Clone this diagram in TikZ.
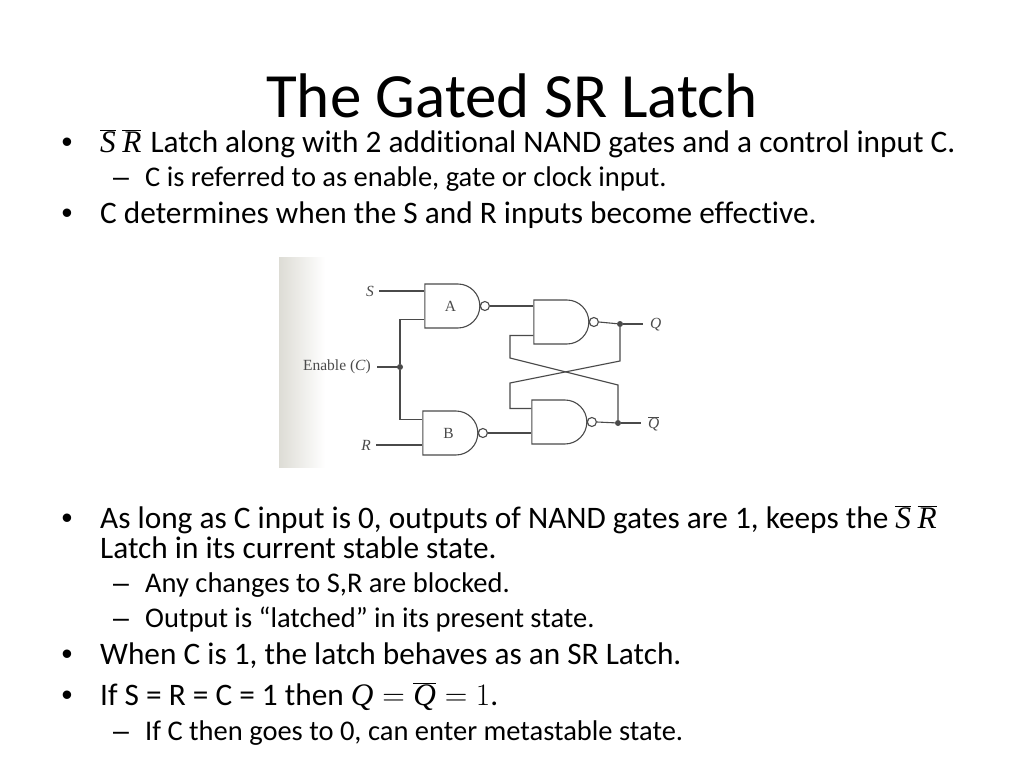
\documentclass[tikz,border=0pt]{standalone}
\usepackage{fix-cm}
\usepackage{fontspec}
\setmainfont[Ligatures=NoCommon]{Carlito}
\newfontfamily\scanfont{Liberation Serif}
\newfontfamily\markfont{Liberation Sans}
\usetikzlibrary{shapes.gates.logic.US}
\definecolor{scanink}{HTML}{4A4A4A}
\definecolor{scanedge}{HTML}{DDDCD5}
\newcommand{\latchvar}[1]{\mbox{\scanfont\itshape #1}}
\newcommand{\latchbars}{$\overline{\latchvar{S}}\hspace{6.5pt}\overline{\latchvar{R}}$}
\tikzset{
  titletxt/.style = {anchor=base, inner sep=0pt, font=\fontsize{63}{66}\selectfont},
  maintxt/.style = {anchor=base west, inner sep=0pt, font=\fontsize{31.3}{34}\selectfont},
  subtxt/.style = {anchor=base west, inner sep=0pt, font=\fontsize{28.5}{32}\selectfont},
  bulletmark/.style = {anchor=base west, inner sep=0pt, font=\markfont\fontsize{31}{34}\selectfont},
  dashmark/.style = {anchor=base west, inner sep=0pt, font=\markfont\fontsize{28.5}{32}\selectfont},
  scantxt/.style = {inner sep=0pt, text=scanink, font=\scanfont\fontsize{15.5}{17}\selectfont},
  nandgate/.style = {nand gate US, draw=scanink, line width=1.1pt, text=scanink, inner sep=0pt,
    logic gate inputs=nn, logic gate input sep=14.67pt, logic gate inverted radius=4.5pt,
    font=\scanfont\fontsize{15.5}{17}\selectfont},
  wire/.style = {draw=scanink, line width=1.1pt},
  junct/.style = {circle, fill=scanink, inner sep=0pt, minimum size=6pt}
}
\begin{document}
\begin{tikzpicture}[x=1pt,y=-1pt]
  \useasboundingbox (0,0) rectangle (1024,768);
  \shade[left color=scanedge, right color=white] (279,257) rectangle (325,467);

  \node [titletxt] (title) at (512,117) {The Gated SR Latch};
  % upper bullets
  \node [bulletmark] (bul1) at (61.5,152) {•};
  \node [maintxt] (line1) at (100,152) {\latchbars\hspace{2pt} Latch along with 2 additional NAND gates and a control input C.};
  \node [dashmark] (dash1) at (113,186) {–};
  \node [subtxt] (line2) at (145,186) {C is referred to as enable, gate or clock input.};
  \node [bulletmark] (bul2) at (61.5,223) {•};
  \node [maintxt] (line3) at (100,223) {C determines when the S and R inputs become effective.};
  % lower bullets
  \node [bulletmark] (bul3) at (61.5,528) {•};
  \node [maintxt] (line4) at (100,528) {As long as C input is 0, outputs of NAND gates are 1, keeps the \latchbars};
  \node [maintxt] (line5) at (100,558) {Latch in its current stable state.};
  \node [dashmark] (dash2) at (113,592) {–};
  \node [subtxt] (line6) at (145,592) {Any changes to S,R are blocked.};
  \node [dashmark] (dash3) at (113,627) {–};
  \node [subtxt] (line7) at (145,627) {Output is “latched” in its present state.};
  \node [bulletmark] (bul4) at (61.5,664) {•};
  \node [maintxt] (line8) at (100,664) {When C is 1, the latch behaves as an SR Latch.};
  \node [bulletmark] (bul5) at (61.5,705) {•};
  \node [maintxt] (line9) at (100,705) {If S = R = C = 1 then $\latchvar{Q}=\overline{\latchvar{Q}}=1$.};
  \node [dashmark] (dash4) at (113,740) {–};
  \node [subtxt] (line10) at (145,740) {If C then goes to 0, can enter metastable state.};

  % the latch
  \node [nandgate] (gateA) at (450.5,306) {A};
  \node [nandgate] (gateB) at (448.5,433) {B};
  \node [nandgate] (gateQ) at (559.5,322) {};
  \node [nandgate] (gateQn) at (557.5,422) {};

  \node [scantxt, anchor=east] (inS) at (374,291) {\itshape S};
  \node [scantxt, anchor=east] (inR) at (371,445) {\itshape R};
  \node [scantxt, anchor=east] (inC) at (371,367) {Enable (\textit{C})};
  \node [scantxt, anchor=west] (outQ) at (650,325) {\itshape Q};
  \node [scantxt, anchor=west] (outQn) at (648,424) {$\overline{\mbox{\itshape Q}}$};

  \node [junct] (dotC) at (400,367) {};
  \node [junct] (dotQ) at (620,324) {};
  \node [junct] (dotQn) at (618,423) {};
  \coordinate (endQ) at (643,324);
  \coordinate (endQn) at (641,423);

  \draw [wire] ([xshift=5pt]inS.east) -- (gateA.west |- inS.east);
  \draw [wire] ([xshift=5pt]inR.east) -- (gateB.west |- inR.east);
  \draw [wire] ([xshift=6pt]inC.east) -- (dotC.center);
  \draw [wire] (dotC) |- ([yshift=-13.5pt]gateA.west);
  \draw [wire] (dotC) |- ([yshift=13.5pt]gateB.west);
  \draw [wire] (gateA.output) -- (gateQ.west |- gateA.output);
  \draw [wire] (gateB.output) -- (gateQn.west |- gateB.output);
  \draw [wire] (gateQ.output) -- (dotQ);
  \draw [wire] (gateQn.output) -- (dotQn);
  \draw [wire] (dotQ) -- (endQ);
  \draw [wire] (dotQn) -- (endQn);
  % cross coupling
  \draw [wire] ([yshift=-13.5pt]gateQ.west) -| (510,358) -- (618,385) -- (dotQn);
  \draw [wire] (dotQ) -- (620,361) -- (510,383) |- ([yshift=13.5pt]gateQn.west);
\end{tikzpicture}
\end{document}
